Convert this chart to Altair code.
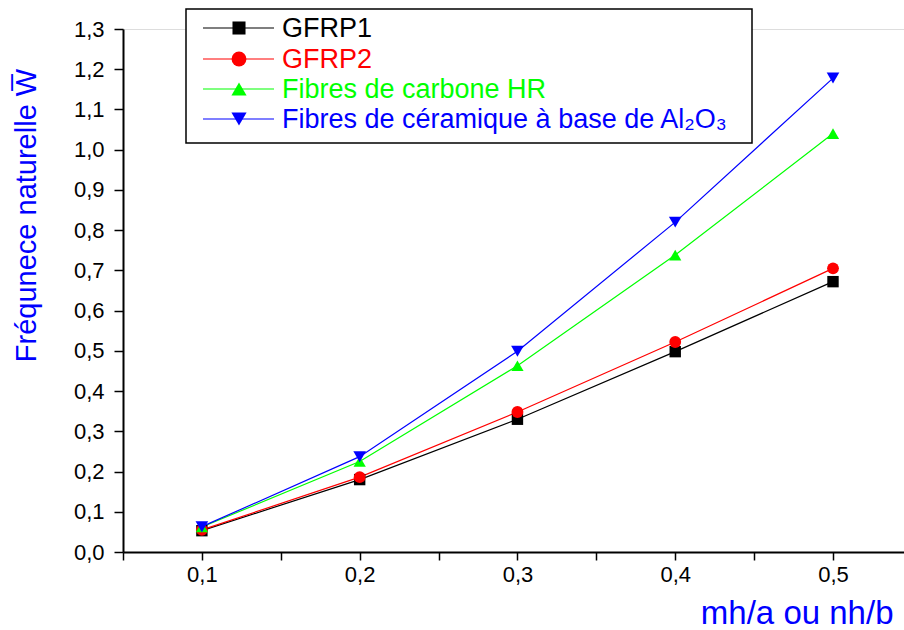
import altair as alt
import pandas as pd

# ---- data ----
x_vals = [0.1, 0.2, 0.3, 0.4, 0.5]
gfrp1 = [0.053, 0.180, 0.330, 0.498, 0.672]
gfrp2 = [0.055, 0.186, 0.348, 0.522, 0.705]
carbone = [0.062, 0.225, 0.463, 0.738, 1.040]
ceramique = [0.063, 0.237, 0.499, 0.820, 1.178]

series_names = ["GFRP1", "GFRP2", "Fibres de carbone HR", "Fibres de céramique à base de Al₂O₃"]
series_colors = ["#000000", "#FF0000", "#00FF00", "#0000FF"]
series_shapes = ["square", "circle", "triangle-up", "triangle-down"]
series_sizes = [130, 160, 170, 170]
legend_sizes = [170, 220, 230, 230]
series_values = [gfrp1, gfrp2, carbone, ceramique]

x_ticks = [0.05, 0.1, 0.15, 0.2, 0.25, 0.3, 0.35, 0.4, 0.45, 0.5]
y_ticks = [round(0.05 * i, 2) for i in range(27)]

rows = []
for k, (name, vals) in enumerate(zip(series_names, series_values)):
    for xv, yv in zip(x_vals, vals):
        rows.append({"series": name, "order": k, "x": xv, "y": yv})
df = pd.DataFrame(rows)

FONT = "Liberation Sans"
W, H = 781, 523

x_enc = alt.X(
    "x:Q",
    scale=alt.Scale(domain=[0.05, 0.545], nice=False, zero=False),
    axis=alt.Axis(
        values=x_ticks,
        labelExpr="round(datum.value*100) % 10 == 0 ? replace(format(datum.value, '.1f'), '.', ',') : ''",
        tickSize=8, tickWidth=1.5, tickColor="black",
        domainColor="black", domainWidth=2,
        labelFont=FONT, labelFontSize=22, labelColor="black", labelPadding=4,
        grid=False,
        title="mh/a ou nh/b", titleFont=FONT, titleFontSize=33, titleFontWeight="normal",
        titleColor="#0000FF", titleAlign="right", titleAnchor="end",
        titleX=770, titleY=71, titleBaseline="alphabetic",
    ),
)
y_enc = alt.Y(
    "y:Q",
    scale=alt.Scale(domain=[0, 1.3], nice=False, zero=False),
    axis=alt.Axis(
        values=y_ticks,
        labelExpr="round(datum.value*100) % 10 == 0 ? replace(format(datum.value, '.1f'), '.', ',') : ''",
        tickSize={"condition": {"test": "round(datum.value*100) % 10 == 0", "value": 9}, "value": 5},
        tickWidth=1.5, tickColor="black",
        domainColor="black", domainWidth=2,
        labelFont=FONT, labelFontSize=22, labelColor="black", labelPadding=10,
        grid=False,
        title="Fréqunece naturelle W̅", titleFont=FONT, titleFontSize=29, titleFontWeight="normal",
        titleColor="#0000FF", titleAngle=-90, titleX=-97, titleY=186,
        titleAlign="center", titleBaseline="middle",
    ),
)

color_scale = alt.Scale(domain=series_names, range=series_colors)
shape_scale = alt.Scale(domain=series_names, range=series_shapes)
size_scale = alt.Scale(domain=series_names, range=series_sizes)

base = alt.Chart(df)
lines = base.mark_line(strokeWidth=1.2).encode(
    x=x_enc, y=y_enc,
    color=alt.Color("series:N", scale=color_scale, legend=None),
    detail="series:N",
    order="order:Q",
)
points = base.mark_point(filled=True, opacity=1).encode(
    x="x:Q", y="y:Q",
    color=alt.Color("series:N", scale=color_scale, legend=None),
    shape=alt.Shape("series:N", scale=shape_scale, legend=None),
    size=alt.Size("series:N", scale=size_scale, legend=None),
    order="order:Q",
)

# ---- manual legend ----
one = pd.DataFrame({"a": [0]})
legend_layers = [
    alt.Chart(one).mark_rect(fill="white", stroke="black", strokeWidth=1.5).encode(
        x=alt.value(63), x2=alt.value(629), y=alt.value(-20), y2=alt.value(114)
    )
]
row_y = [-1, 30, 60, 90]
for name, col, shp, sz, ry in zip(series_names, series_colors, series_shapes, legend_sizes, row_y):
    legend_layers.append(
        alt.Chart(one).mark_rule(color=col, strokeWidth=1.2).encode(
            x=alt.value(80), x2=alt.value(151), y=alt.value(ry)
        )
    )
    legend_layers.append(
        alt.Chart(one).mark_point(filled=True, opacity=1, color=col, shape=shp, size=sz).encode(
            x=alt.value(116), y=alt.value(ry)
        )
    )
    legend_layers.append(
        alt.Chart(one).mark_text(
            text=name, color=col, font=FONT, fontSize=27, align="left", baseline="middle"
        ).encode(x=alt.value(159), y=alt.value(ry + 1))
    )

chart = alt.layer(lines, points, *legend_layers).properties(
    width=W, height=H,
    autosize=alt.AutoSizeParams(type="none"),
    padding={"left": 123, "top": 29, "right": 0, "bottom": 78},
).configure_view(stroke=None).configure(background="white")

chart.save("out.html", embed_options={"renderer": "svg", "actions": False})
